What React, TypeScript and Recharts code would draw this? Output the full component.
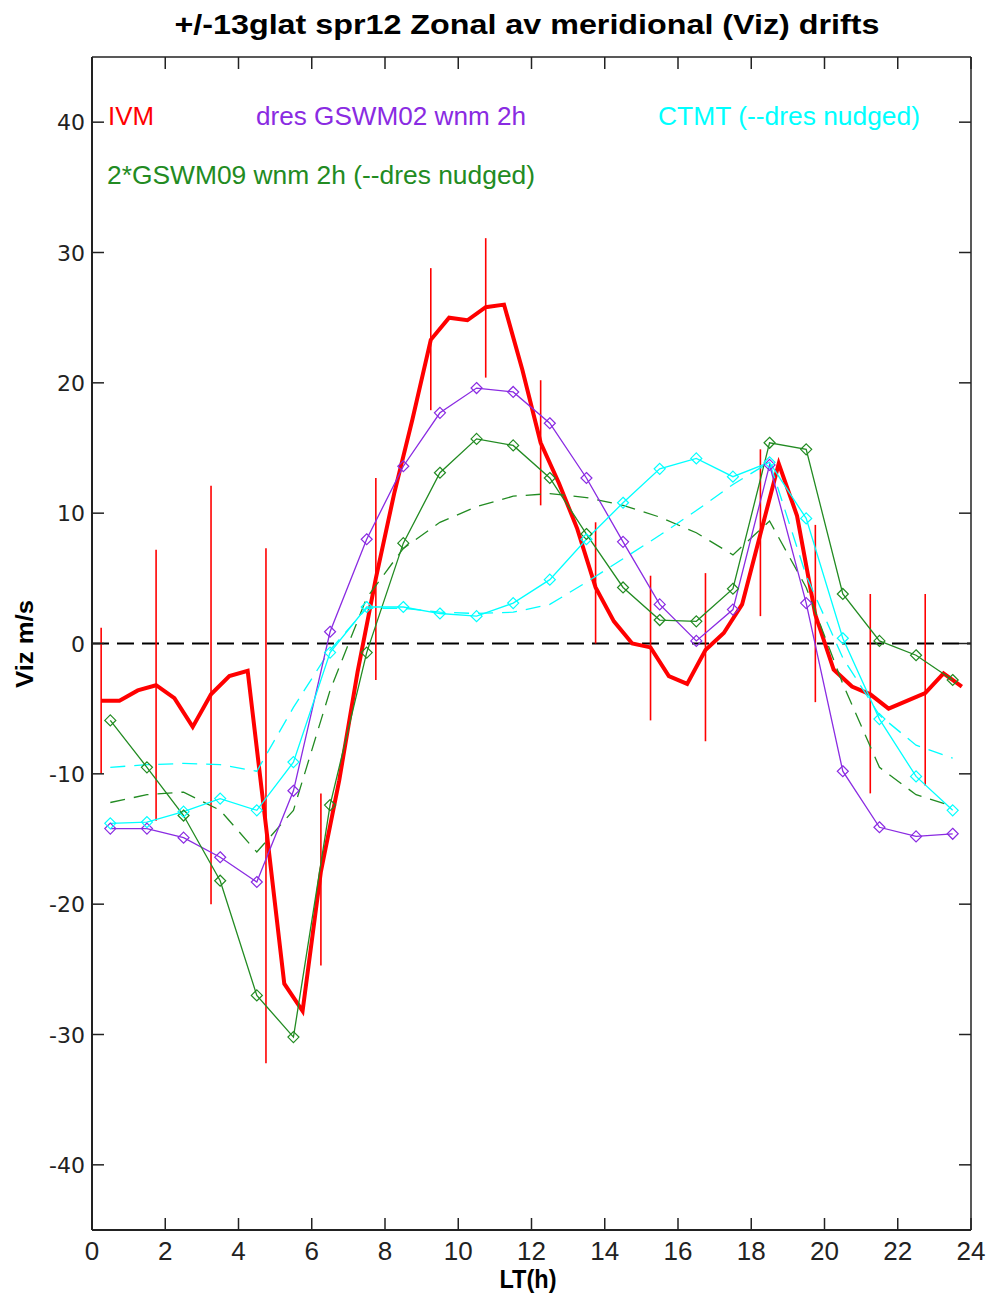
import React from 'react';
import {
  ComposedChart,
  Line,
  Scatter,
  ErrorBar,
  XAxis,
  YAxis,
  ReferenceLine,
} from 'recharts';

// IVM observations, half-hour resolution
const ivmLT = [
  0.25, 0.75, 1.25, 1.75, 2.25, 2.75, 3.25, 3.75, 4.25, 4.75, 5.25, 5.75,
  6.25, 6.75, 7.25, 7.75, 8.25, 8.75, 9.25, 9.75, 10.25, 10.75, 11.25, 11.75,
  12.25, 12.75, 13.25, 13.75, 14.25, 14.75, 15.25, 15.75, 16.25, 16.75, 17.25, 17.75,
  18.25, 18.75, 19.25, 19.75, 20.25, 20.75, 21.25, 21.75, 22.25, 22.75, 23.25, 23.75,
];
const ivmViz = [
  -4.4, -4.4, -3.6, -3.2, -4.2, -6.4, -3.9, -2.5, -2.1, -14.0, -26.1, -28.2,
  -17.5, -10.5, -2.2, 5.0, 11.5, 17.2, 23.3, 25.0, 24.8, 25.8, 26.0, 21.0,
  15.4, 12.3, 8.8, 4.3, 1.7, 0.0, -0.3, -2.5, -3.1, -0.5, 0.8, 3.0,
  8.4, 13.8, 9.8, 2.2, -2.0, -3.3, -3.9, -5.0, -4.4, -3.8, -2.3, -3.3,
];

// IVM spread bars
const barLT = [0.25, 1.75, 3.25, 4.75, 6.25, 7.75, 9.25, 10.75, 12.25, 13.75, 15.25, 16.75, 18.25, 19.75, 21.25, 22.75];
const barTop = [1.2, 7.2, 12.1, 7.3, -11.5, 12.7, 28.8, 31.1, 20.2, 9.3, 5.2, 5.4, 14.9, 9.1, 3.8, 3.8];
const barBottom = [-10.0, -13.6, -20.0, -32.2, -24.7, -2.8, 17.9, 20.4, 10.6, 0.0, -5.9, -7.5, 2.1, -4.5, -11.5, -10.9];

// model output, hourly
const modelLT = [
  0.5, 1.5, 2.5, 3.5, 4.5, 5.5, 6.5, 7.5, 8.5, 9.5, 10.5, 11.5,
  12.5, 13.5, 14.5, 15.5, 16.5, 17.5, 18.5, 19.5, 20.5, 21.5, 22.5, 23.5,
];
const gswm02 = [
  -14.2, -14.2, -14.9, -16.4, -18.3, -11.3, 0.9, 8.0, 13.6, 17.7, 19.6, 19.3,
  16.9, 12.7, 7.8, 3.0, 0.2, 2.6, 13.7, 3.1, -9.8, -14.1, -14.8, -14.6,
];
const gswm09 = [
  -5.9, -9.5, -13.2, -18.2, -27.0, -30.2, -12.4, -0.7, 7.7, 13.1, 15.7, 15.2,
  12.7, 8.4, 4.3, 1.8, 1.7, 4.2, 15.4, 14.9, 3.8, 0.2, -0.9, -2.8,
];
const gswm09Nudged = [
  -12.2, -11.6, -11.4, -12.8, -16.0, -12.8, -3.6, 3.5, 7.3, 9.3, 10.5, 11.3,
  11.5, 11.2, 10.6, 9.7, 8.5, 6.8, 9.4, 4.3, -3.1, -9.5, -11.6, -12.5,
];
const ctmt = [
  -13.8, -13.7, -12.9, -11.9, -12.8, -9.1, -0.7, 2.8, 2.8, 2.3, 2.1, 3.1,
  4.9, 8.0, 10.8, 13.4, 14.2, 12.8, 13.9, 9.6, 0.4, -5.8, -10.2, -12.8,
];
const ctmtNudged = [
  -9.5, -9.3, -9.2, -9.3, -9.8, -4.9, -0.5, 2.7, 2.7, 2.4, 2.3, 2.4,
  3.0, 4.7, 6.5, 8.3, 10.2, 12.2, 13.9, 5.2, -1.1, -5.5, -7.8, -8.8,
];

const xTicks = [0, 2, 4, 6, 8, 10, 12, 14, 16, 18, 20, 22, 24];
const yTicks = [-40, -30, -20, -10, 0, 10, 20, 30, 40];

const RED = '#ff0000';
const PURPLE = '#8a2be2';
const GREEN = '#228b22';
const CYAN = '#00ffff';
const AXIS = '#222';

const rows = (lt: number[], v: number[]) => lt.map((x, i) => ({ lt: x, v: v[i] }));
const ivmRows = rows(ivmLT, ivmViz);
const barRows = barLT.map((x, i) => ({
  lt: x,
  mid: (barTop[i] + barBottom[i]) / 2,
  err: (barTop[i] - barBottom[i]) / 2,
}));

const TICK_LEN = 12;
const Y_GAP = 7;
const X_GAP = 10;
const NARROW = '"Liberation Sans Narrow", "Liberation Sans", Arial, sans-serif';

function YTick({ x, y, payload }: any) {
  const axisX = x + Y_GAP;
  return (
    <g>
      <line x1={axisX} x2={axisX + TICK_LEN} y1={y} y2={y} stroke={AXIS} strokeWidth={1.5} />
      <text x={x} y={y + 8} textAnchor="end" fontFamily="DejaVu Sans" fontSize={22} fill={AXIS}>
        {payload.value}
      </text>
    </g>
  );
}

function XTick({ x, y, payload }: any) {
  const axisY = y - X_GAP;
  return (
    <g>
      <line x1={x} x2={x} y1={axisY} y2={axisY - TICK_LEN} stroke={AXIS} strokeWidth={1.5} />
      <text x={x} y={axisY + 30} textAnchor="middle" fontFamily={NARROW} fontSize={26} fill={AXIS}>
        {payload.value}
      </text>
    </g>
  );
}

// frame ticks on the top and right edges, pointing into the plot
function TopTick({ x, y }: any) {
  return <line x1={x} x2={x} y1={y} y2={y + TICK_LEN} stroke={AXIS} strokeWidth={1.5} />;
}
function RightTick({ x, y }: any) {
  return <line x1={x} x2={x - TICK_LEN} y1={y} y2={y} stroke={AXIS} strokeWidth={1.5} />;
}

const diamond = (color: string) => (p: any) => {
  const { cx, cy, index } = p;
  if (cx == null || cy == null) return <g key={`n${index}`} />;
  const r = 5.5;
  return (
    <polygon
      key={`d${index}`}
      points={`${cx},${cy - r} ${cx + r},${cy} ${cx},${cy + r} ${cx - r},${cy}`}
      fill="none"
      stroke={color}
      strokeWidth={1.2}
    />
  );
};

const Label = ({ x, y, w, color, size, bold, children, anchor = 'start' }: any) => (
  <text
    x={x}
    y={y}
    fill={color}
    fontSize={size}
    fontWeight={bold ? 'bold' : 'normal'}
    fontFamily={NARROW}
    textAnchor={anchor}
    textLength={w}
    lengthAdjust="spacingAndGlyphs"
  >
    {children}
  </text>
);

export default function App() {
  const model = (data: number[], color: string, dashed: boolean) => (
    <Line
      xAxisId="b"
      yAxisId="l"
      data={rows(modelLT, data)}
      dataKey="v"
      type="linear"
      stroke={color}
      strokeWidth={1.3}
      strokeDasharray={dashed ? '15 9' : undefined}
      dot={dashed ? false : diamond(color)}
      activeDot={false}
      isAnimationActive={false}
    />
  );

  return (
    <div style={{ position: 'absolute', left: 0, top: 0, width: 988, height: 1296, background: '#fff' }}>
      <ComposedChart width={988} height={1296} margin={{ top: 56, right: 16, left: 0, bottom: 0 }}>
        <XAxis
          xAxisId="b"
          type="number"
          dataKey="lt"
          domain={[0, 24]}
          ticks={xTicks}
          interval={0}
          height={66}
          tickSize={0}
          tickMargin={X_GAP}
          tickLine={false}
          tick={<XTick />}
          axisLine={{ stroke: AXIS, strokeWidth: 2 }}
          allowDataOverflow
        />
        <XAxis
          xAxisId="t"
          orientation="top"
          type="number"
          dataKey="lt"
          domain={[0, 24]}
          ticks={xTicks}
          interval={0}
          height={1}
          tickSize={0}
          tickMargin={0}
          tickLine={false}
          tick={<TopTick />}
          axisLine={{ stroke: AXIS, strokeWidth: 1.5 }}
          allowDataOverflow
        />
        <YAxis
          yAxisId="l"
          type="number"
          domain={[-45, 45]}
          ticks={yTicks}
          interval={0}
          width={92}
          tickSize={0}
          tickMargin={Y_GAP}
          tickLine={false}
          tick={<YTick />}
          axisLine={{ stroke: AXIS, strokeWidth: 2 }}
          allowDataOverflow
        />
        <YAxis
          yAxisId="r"
          orientation="right"
          type="number"
          domain={[-45, 45]}
          ticks={yTicks}
          interval={0}
          width={1}
          tickSize={0}
          tickMargin={0}
          tickLine={false}
          tick={<RightTick />}
          axisLine={{ stroke: AXIS, strokeWidth: 1.5 }}
          allowDataOverflow
        />

        {/* carries the top and right frame axes; draws nothing */}
        <Line
          xAxisId="t"
          yAxisId="r"
          data={ivmRows}
          dataKey="v"
          stroke="none"
          dot={false}
          activeDot={false}
          legendType="none"
          isAnimationActive={false}
        />

        <ReferenceLine xAxisId="b" yAxisId="l" y={0} stroke="#000" strokeWidth={2} strokeDasharray="17 8" />

        <Scatter
          xAxisId="b"
          yAxisId="l"
          data={barRows}
          dataKey="mid"
          shape={() => <g />}
          isAnimationActive={false}
        >
          <ErrorBar dataKey="err" direction="y" width={0} stroke={RED} strokeWidth={1.6} />
        </Scatter>

        <Line
          xAxisId="b"
          yAxisId="l"
          data={ivmRows}
          dataKey="v"
          type="linear"
          stroke={RED}
          strokeWidth={4}
          dot={false}
          activeDot={false}
          isAnimationActive={false}
        />

        {model(gswm09Nudged, GREEN, true)}
        {model(ctmtNudged, CYAN, true)}
        {model(gswm02, PURPLE, false)}
        {model(gswm09, GREEN, false)}
        {model(ctmt, CYAN, false)}
      </ComposedChart>

      <svg
        width={988}
        height={1296}
        style={{ position: 'absolute', left: 0, top: 0, pointerEvents: 'none' }}
      >
        <Label x={527} y={34} w={705} color="#000" size={27} bold anchor="middle">
          +/-13glat spr12 Zonal av meridional (Viz) drifts
        </Label>
        <Label x={108} y={125} w={46} color={RED} size={25}>IVM</Label>
        <Label x={256} y={125} w={270} color={PURPLE} size={25}>dres GSWM02 wnm 2h</Label>
        <Label x={658} y={125} w={262} color={CYAN} size={25}>CTMT (--dres nudged)</Label>
        <Label x={107} y={184} w={428} color={GREEN} size={25}>2*GSWM09 wnm 2h (--dres nudged)</Label>
        <Label x={528} y={1288} w={57} color="#000" size={25} bold anchor="middle">LT(h)</Label>
        <g transform="translate(33 644) rotate(-90)">
          <Label x={0} y={0} w={88} color="#000" size={23} bold anchor="middle">Viz m/s</Label>
        </g>
      </svg>
    </div>
  );
}
